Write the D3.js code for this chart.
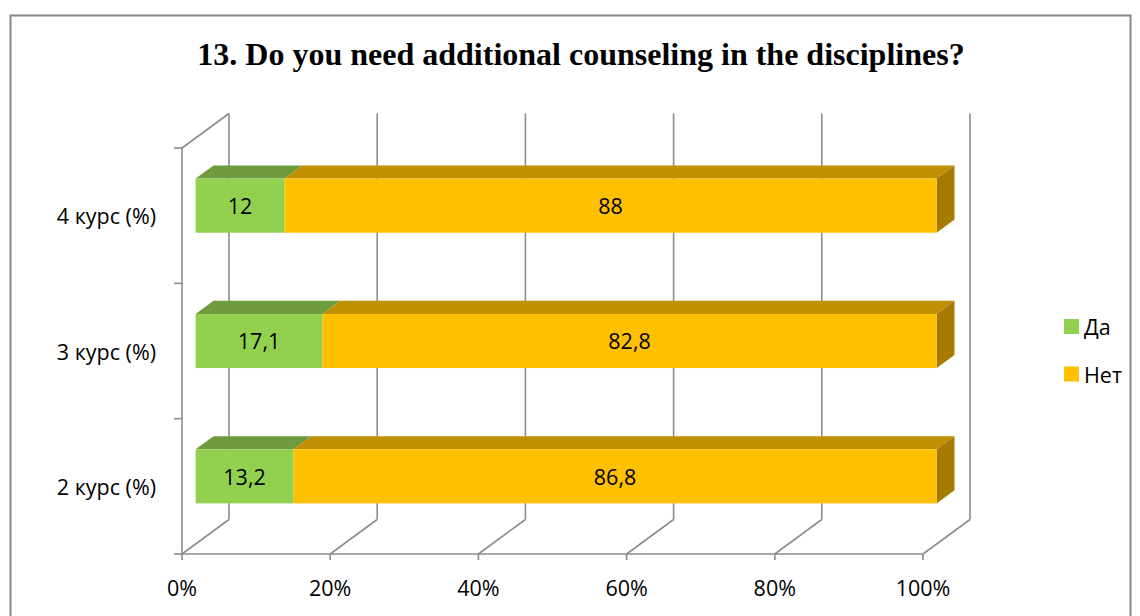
<!DOCTYPE html>
<meta charset="utf-8">
<script src="https://d3js.org/d3.v7.min.js"></script>
<style>
  body { margin: 0; background: #fff; }
  text { font-family: "Open Sans", sans-serif; fill: #000; }
</style>
<div id="chart"></div>
<script>
// data
var categories = ["4 курс (%)", "3 курс (%)", "2 курс (%)"];
var seriesNames = ["Да", "Нет"];
var daValues = [12, 17.1, 13.2];
var netValues = [88, 82.8, 86.8];
var xTicks = [0, 0.2, 0.4, 0.6, 0.8, 1];

var W = 1140, H = 616;
var svg = d3.select("#chart").append("svg")
    .attr("width", W).attr("height", H);

// outer frame
svg.append("rect")
    .attr("x", 10.5).attr("y", 15.5)
    .attr("width", 1120).attr("height", 640)
    .attr("fill", "none").attr("stroke", "#868686").attr("stroke-width", 2);

svg.append("text")
    .attr("x", 581).attr("y", 65)
    .attr("text-anchor", "middle")
    .style("font-family", "'Liberation Serif', 'Times New Roman', serif")
    .style("font-weight", "bold")
    .style("font-size", "32px")
    .text("13. Do you need additional counseling in the disciplines?");

// 3d geometry
var DX = 47, DY = -34.5;
var x = d3.scaleLinear().domain([0, 1]).range([182, 923]);
var y = d3.scaleBand().domain(categories).range([148, 554]);
var barFrac = 0.4, dFront = 0.29, dBack = 0.67;
var gridCol = "#8c8c8c";
var fs = "21.5px";

var grid = svg.append("g").attr("stroke", gridCol).attr("stroke-width", 1.6).attr("fill", "none");

// back wall gridlines
xTicks.forEach(function(t) {
  grid.append("line")
    .attr("x1", x(t) + DX).attr("x2", x(t) + DX)
    .attr("y1", y.range()[0] + DY).attr("y2", y.range()[1] + DY);
  // floor diagonals
  grid.append("line")
    .attr("x1", x(t)).attr("y1", y.range()[1])
    .attr("x2", x(t) + DX).attr("y2", y.range()[1] + DY);
  // tick marks
  grid.append("line")
    .attr("x1", x(t)).attr("x2", x(t))
    .attr("y1", y.range()[1]).attr("y2", y.range()[1] + 6);
});
// left side wall top edge
grid.append("line")
  .attr("x1", x(0)).attr("y1", y.range()[0])
  .attr("x2", x(0) + DX).attr("y2", y.range()[0] + DY);
// front axes
grid.append("line")
  .attr("x1", x(0)).attr("x2", x(0))
  .attr("y1", y.range()[0]).attr("y2", y.range()[1]);
grid.append("line")
  .attr("x1", x(0)).attr("x2", x(1))
  .attr("y1", y.range()[1]).attr("y2", y.range()[1]);
// category tick marks
var catEdges = categories.map(function(c) { return y(c); }).concat([y.range()[1]]);
catEdges.forEach(function(v) {
  grid.append("line")
    .attr("x1", x(0) - 8).attr("x2", x(0))
    .attr("y1", v).attr("y2", v);
});

// bars
var colors = {
  "Да": { front: "#92D050", top: "#6E9C3C", side: "#5E8A30" },
  "Нет": { front: "#FFC000", top: "#C09000", side: "#A57C00" }
};
var fx = dFront * DX, fy = dFront * DY;
var ddx = (dBack - dFront) * DX, ddy = (dBack - dFront) * DY;

var bars = svg.append("g");
categories.forEach(function(c, i) {
  var total = daValues[i] + netValues[i];
  var segs = [
    { name: "Да", v0: 0, v1: daValues[i] / total, label: daValues[i] },
    { name: "Нет", v0: daValues[i] / total, v1: 1, label: netValues[i] }
  ];
  var yTop = y(c) + y.bandwidth() * (1 - barFrac) / 2 + fy;
  var h = y.bandwidth() * barFrac;
  segs.forEach(function(s, k) {
    var x0 = x(s.v0) + fx, x1 = x(s.v1) + fx;
    bars.append("polygon")
      .attr("points", [[x0, yTop], [x1, yTop], [x1 + ddx, yTop + ddy], [x0 + ddx, yTop + ddy]].join(" "))
      .attr("fill", colors[s.name].top);
    if (k === segs.length - 1) {
      bars.append("polygon")
        .attr("points", [[x1, yTop], [x1 + ddx, yTop + ddy], [x1 + ddx, yTop + ddy + h], [x1, yTop + h]].join(" "))
        .attr("fill", colors[s.name].side);
    }
    bars.append("rect")
      .attr("x", x0).attr("y", yTop)
      .attr("width", x1 - x0).attr("height", h)
      .attr("fill", colors[s.name].front);
    bars.append("text")
      .attr("x", (x0 + x1) / 2).attr("y", yTop + h / 2)
      .attr("text-anchor", "middle").attr("dominant-baseline", "central")
      .style("font-size", fs)
      .text(String(s.label).replace(".", ","));
  });
});

// category labels
svg.append("g").selectAll("text").data(categories).enter().append("text")
  .attr("x", 156)
  .attr("y", function(d) { return y(d) + y.bandwidth() / 2; })
  .attr("text-anchor", "end").attr("dominant-baseline", "central")
  .style("font-size", fs)
  .text(function(d) { return d; });

// x labels
svg.append("g").selectAll("text").data(xTicks).enter().append("text")
  .attr("x", function(d) { return x(d); })
  .attr("y", 587)
  .attr("text-anchor", "middle").attr("dominant-baseline", "central")
  .style("font-size", fs)
  .text(d3.format(".0%"));

// legend
var leg = svg.append("g").selectAll("g").data(seriesNames).enter().append("g")
  .attr("transform", function(d, i) { return "translate(1064," + (326.5 + i * 47.5) + ")"; });
leg.append("rect").attr("x", 0).attr("y", -7.5).attr("width", 15).attr("height", 15)
  .attr("fill", function(d) { return colors[d].front; });
leg.append("text").attr("x", 20).attr("y", 0)
  .attr("dominant-baseline", "central")
  .style("font-size", fs)
  .text(function(d) { return d; });
</script>
